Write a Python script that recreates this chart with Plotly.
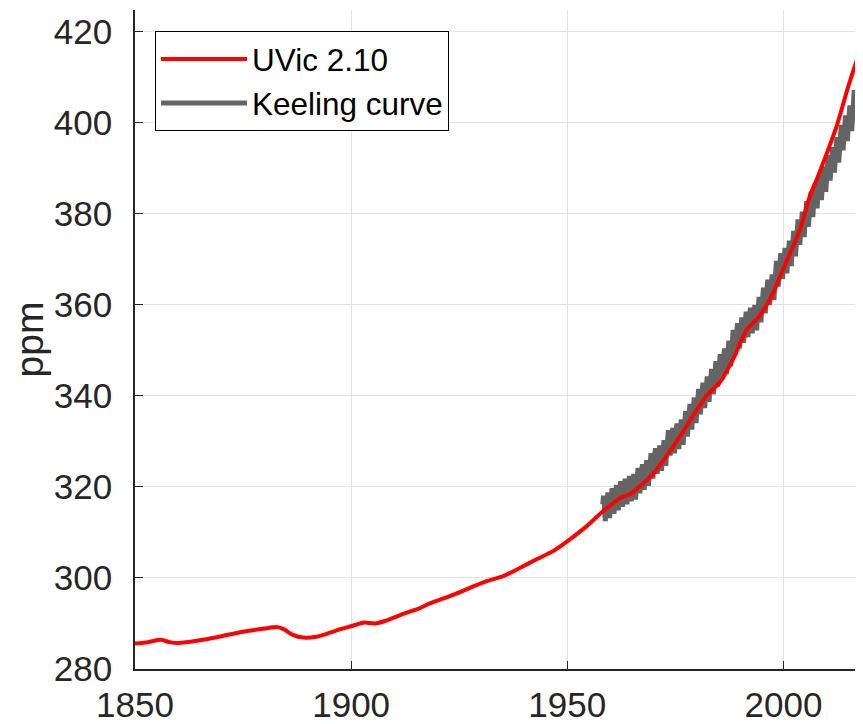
import plotly.graph_objects as go

# UVic 2.10 modelled atmospheric CO2 (ppm)
uvic_year = [1850, 1853, 1856, 1858, 1860, 1865, 1870, 1875, 1880, 1883, 1884.5, 1886.5,
             1889, 1892, 1894, 1897, 1900, 1903, 1905.5, 1908, 1912, 1915.9, 1918.2,
             1923.6, 1931.3, 1935.2, 1939.0, 1942.9, 1946.7, 1950.6, 1954.5, 1958.3,
             1960.6, 1962.2, 1964.5, 1966.8, 1969.9, 1973.0, 1976.0, 1979.1, 1982.2,
             1985.3, 1988.4, 1991.4, 1994.5, 1997.6, 1999.9, 2003.8, 2006.1, 2008.0,
             2012.3, 2015.0, 2018.4]
uvic_ppm = [285.6, 285.9, 286.4, 285.9, 285.7, 286.3, 287.2, 288.2, 288.9, 289.2, 288.7, 287.5,
            286.9, 287.1, 287.6, 288.6, 289.4, 290.2, 290.0, 290.6, 292.1, 293.4, 294.4,
            296.3, 299.3, 300.4, 302.2, 304.1, 305.9, 308.5, 311.4, 314.7,
            316.4, 317.6, 318.4, 320.2, 322.9, 326.9, 331.0, 335.7, 340.1,
            343.0, 348.2, 354.4, 357.6, 362.6, 367.8, 376.5, 383.9, 388.3,
            399.3, 408.0, 418.0]

# Keeling curve (Mauna Loa): annual means and mean monthly offsets
keeling_years = list(range(1958, 2019))
keeling_annual = [315.3, 315.98, 316.91, 317.64, 318.45, 318.99, 319.62, 320.04, 321.37, 322.18,
                  323.05, 324.62, 325.68, 326.32, 327.46, 329.68, 330.19, 331.12, 332.03, 333.84,
                  335.41, 336.84, 338.76, 340.12, 341.48, 343.15, 344.85, 346.35, 347.61, 349.31,
                  351.69, 353.20, 354.45, 355.70, 356.54, 357.21, 358.96, 360.97, 362.74, 363.88,
                  366.84, 368.54, 369.71, 371.32, 373.45, 375.98, 377.70, 379.98, 382.09, 384.02,
                  385.83, 387.64, 390.10, 391.85, 394.06, 396.74, 398.81, 401.01, 404.41, 406.76,
                  408.72]
month_offset = [-0.7, 0.0, 0.9, 2.2, 2.8, 2.2, 0.9, -1.1, -2.7, -2.8, -1.4, -0.2]

k_t, k_v = [], []
for yr, mean in zip(keeling_years, keeling_annual):
    for m, off in enumerate(month_offset):
        if yr == 1958 and m < 2:
            continue
        k_t.append(yr + (m + 0.5) / 12)
        k_v.append(mean + off)

FONT = "Liberation Sans, Arial, Helvetica, sans-serif"
AX = "#262626"

fig = go.Figure()
fig.add_trace(go.Scatter(x=k_t, y=k_v, mode="lines", name="Keeling curve",
                         line=dict(color="#646464", width=5), legendrank=2))
fig.add_trace(go.Scatter(x=uvic_year, y=uvic_ppm, mode="lines", name="UVic 2.10",
                         line=dict(color="#ff0000", width=4, shape="spline", smoothing=0.6),
                         legendrank=1))

fig.update_layout(
    width=855, height=716,
    margin=dict(l=127, r=0, t=2, b=55, autoexpand=False),
    paper_bgcolor="white", plot_bgcolor="white",
    font=dict(family=FONT, color=AX),
    showlegend=True,
    legend=dict(x=0.0275, y=0.968, xanchor="left", yanchor="top",
                bgcolor="white", bordercolor="black", borderwidth=1,
                font=dict(size=31.5, color="black", family=FONT),
                itemwidth=86, tracegroupgap=0),
    xaxis=dict(range=[1850, 2018.4], tickmode="array", tickvals=[1850, 1900, 1950, 2000],
               ticks="inside", ticklen=8, tickcolor=AX, tickwidth=1.3,
               showline=True, linecolor=AX, linewidth=1.5, automargin=False,
               showgrid=True, gridcolor="#e3e3e3", gridwidth=1, zeroline=False,
               tickfont=dict(size=35, color=AX), ticklabelstandoff=4),
    yaxis=dict(range=[280, 424.8], tickmode="array", tickvals=[280, 300, 320, 340, 360, 380, 400, 420],
               ticks="inside", ticklen=8, tickcolor=AX, tickwidth=1.3,
               showline=True, linecolor=AX, linewidth=1.5, automargin=False,
               showgrid=True, gridcolor="#e3e3e3", gridwidth=1, zeroline=False,
               tickfont=dict(size=35, color=AX), ticklabelstandoff=14,
               title=dict(text="ppm", font=dict(size=39, color=AX), standoff=14)),
)

fig.write_html("out.html")
